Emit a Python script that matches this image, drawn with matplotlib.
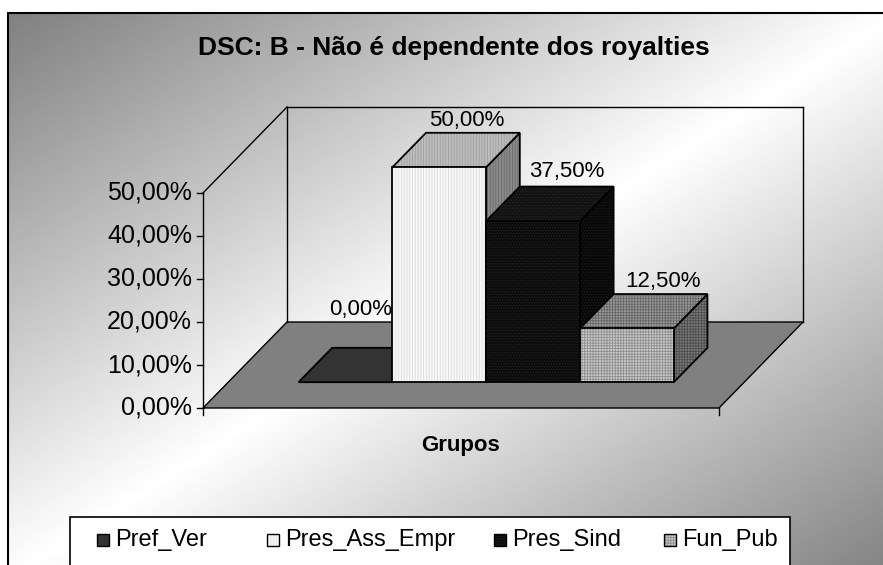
import numpy as np
import matplotlib
matplotlib.use("Agg")
import matplotlib.pyplot as plt
from matplotlib.patches import Polygon, Rectangle

plt.rcParams['font.family'] = ['Liberation Sans', 'DejaVu Sans']
plt.rcParams['hatch.linewidth'] = 0.6

# data
title = "DSC: B - Não é dependente dos royalties"
x_title = "Grupos"
series = ["Pref_Ver", "Pres_Ass_Empr", "Pres_Sind", "Fun_Pub"]
values = [0.0, 50.0, 37.5, 12.5]
value_labels = ["0,00%", "50,00%", "37,50%", "12,50%"]
y_ticks = [0, 10, 20, 30, 40, 50]
y_tick_labels = ["0,00%", "10,00%", "20,00%", "30,00%", "40,00%", "50,00%"]

# face styles per series: front, top, side colours, hatch, hatch colours
styles = [
    dict(front="#333333", top="#333333", side="#2a2a2a", hatch=None,
         hc=("#333333", "#333333", "#2a2a2a")),
    dict(front="#f8f8f8", top="#bcbcbc", side="#8a8a8a", hatch="||||||",
         hc=("#dcdcdc", "#a0a0a0", "#6a6a6a")),
    dict(front="#0c0c0c", top="#121212", side="#080808", hatch="......",
         hc=("#202020", "#262626", "#1c1c1c")),
    dict(front="#cacaca", top="#9a9a9a", side="#7a7a7a", hatch="++++++",
         hc=("#8e8e8e", "#666666", "#4c4c4c")),
]

W, H = 883, 565
fig = plt.figure(figsize=(W / 100, H / 100), dpi=100)
ax = fig.add_axes([0, 0, 1, 1])
ax.axis('off')

# layout of the oblique 3d box in pixels
X0, X1, Y0 = 203, 719, 408      # front edge of the floor
PX_PCT = 4.3                    # pixels per percent
DEPTH_PX = (84, 86)             # oblique shift of the full depth
ymax = max(y_ticks)
px_x = lambda p: (p - X0) / (X1 - X0)
px_y = lambda p: (Y0 - p) / PX_PCT
depth = np.array([DEPTH_PX[0] / (X1 - X0), DEPTH_PX[1] / PX_PCT])


def P(x, y, d):
    return (x + d * depth[0], y + d * depth[1])


# background gradient of the chart area
cx0, cy0, cw, ch = 8, 13, 892, 566
cols = np.arange(cx0, W) + 0.5
rows = np.arange(cy0, H) + 0.5
gx, gy = np.meshgrid((cols - cx0) / cw, (rows - cy0) / ch)
t = (gx + gy) / 2
v = 1.0 - 0.5 * np.abs(2 * t - 1)
ax.imshow(v, cmap='gray', vmin=0, vmax=1, aspect='auto', interpolation='bilinear',
          extent=[px_x(cx0), px_x(W), px_y(H), px_y(cy0)], zorder=0)
ax.set_xlim(px_x(0), px_x(W))
ax.set_ylim(px_y(H), px_y(0))
ax.add_patch(Rectangle((px_x(cx0), px_y(cy0 + ch)), px_x(cx0 + cw) - px_x(cx0),
                       px_y(cy0) - px_y(cy0 + ch), fill=False, ec='black', lw=1.5,
                       zorder=1, clip_on=False))

# floor and walls
ax.add_patch(Polygon([P(0, 0, 0), P(1, 0, 0), P(1, 0, 1), P(0, 0, 1)],
                     closed=True, fc='#808080', ec='black', lw=1.0, zorder=2))
for a, b in [((0, 0, 0), (0, ymax, 0)), ((0, ymax, 0), (0, ymax, 1)),
             ((0, 0, 1), (0, ymax, 1)), ((0, ymax, 1), (1, ymax, 1)),
             ((1, ymax, 1), (1, 0, 1))]:
    pa, pb = P(*a), P(*b)
    ax.plot([pa[0], pb[0]], [pa[1], pb[1]], color='black', lw=1.0, zorder=2)

# y axis ticks
tick_len = 6 / (X1 - X0)
for tv, tl in zip(y_ticks, y_tick_labels):
    ax.plot([-tick_len, 0], [tv, tv], color='black', lw=1.0, zorder=2)
    ax.text(-11 / (X1 - X0), tv, tl, ha='right', va='center', fontsize=18, zorder=3)
for xv in [0, 1]:
    ax.plot([xv, xv], [0, -7 / PX_PCT], color='black', lw=1.0, zorder=2)

# bars
n = len(values)
gap = 1.5
bw = 1 / (n + gap)
start = gap / 2 * bw
d0, d1 = 0.3, 0.7
label_offsets = [(-18, 33), (-6, 7), (0, 10), (2, 7)]   # pixels


def face(pts, fc, hatch, hc, z):
    ax.add_patch(Polygon(pts, closed=True, fc=fc, ec=hc, hatch=hatch, lw=0, zorder=z))
    ax.add_patch(Polygon(pts, closed=True, fill=False, ec='black', lw=1.3, zorder=z + 0.1))


for i, (val, st) in enumerate(zip(values, styles)):
    x0 = start + i * bw
    x1 = x0 + bw
    z = 3 + i
    side = [P(x1, 0, d0), P(x1, 0, d1), P(x1, val, d1), P(x1, val, d0)]
    top = [P(x0, val, d0), P(x1, val, d0), P(x1, val, d1), P(x0, val, d1)]
    front = [P(x0, 0, d0), P(x1, 0, d0), P(x1, val, d0), P(x0, val, d0)]
    if val > 0:
        face(side, st["side"], st["hatch"], st["hc"][2], z)
    face(top, st["top"], st["hatch"], st["hc"][1], z + 0.2)
    if val > 0:
        face(front, st["front"], st["hatch"], st["hc"][0], z + 0.4)
    lx, ly = P((x0 + x1) / 2, val, d1)
    ox, oy = label_offsets[i]
    ax.annotate(value_labels[i], (lx, ly), xytext=(ox * 0.72, oy * 0.72),
                textcoords='offset points', ha='center', va='baseline',
                fontsize=16, zorder=10)

# titles
fig.text(454 / W, 1 - 48 / H, title, ha='center', va='center', fontsize=19,
         fontweight='bold')
fig.text(461 / W, 1 - 446 / H, x_title, ha='center', va='center', fontsize=16,
         fontweight='bold')

# legend
fx = lambda p: p / W
fy = lambda p: 1 - p / H
leg_l, leg_t, leg_r, leg_b = 70, 517, 790, 600
fig.patches.append(Rectangle((fx(leg_l), fy(leg_b)), fx(leg_r) - fx(leg_l),
                             fy(leg_t) - fy(leg_b), transform=fig.transFigure,
                             fc='white', ec='black', lw=1.2, zorder=1))
marker_x = [97, 267, 494, 664]
for name, st, mx in zip(series, styles, marker_x):
    box = [fx(mx), fy(546), fx(12 + mx) - fx(mx), fy(534) - fy(546)]
    fig.patches.append(Rectangle((box[0], box[1]), box[2], box[3], transform=fig.transFigure,
                                 fc=st["front"], ec=st["hc"][0], hatch=st["hatch"], lw=0,
                                 zorder=2))
    fig.patches.append(Rectangle((box[0], box[1]), box[2], box[3], transform=fig.transFigure,
                                 fill=False, ec='black', lw=1.0, zorder=3))
    fig.text(fx(mx + 18), fy(540), name, ha='left', va='center', fontsize=17, zorder=4)

fig.savefig("out.png", dpi=100, facecolor='white')
